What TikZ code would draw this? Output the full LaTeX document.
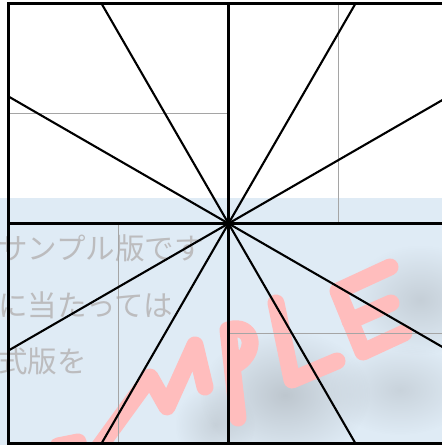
\documentclass[tikz,border=0pt]{standalone}
\usepackage{fontspec}
\newfontfamily\jpfont{Noto Sans CJK JP}
\usetikzlibrary{fadings}
\definecolor{band}{RGB}{223,235,245}
\definecolor{wmgray}{RGB}{188,188,190}
\definecolor{wmpink}{RGB}{255,189,189}
\definecolor{guide}{RGB}{165,165,165}
\definecolor{smudge}{RGB}{150,155,160}
\tikzfading[name=softblob, inner color=transparent!0, outer color=transparent!100]
\begin{document}
\begin{tikzpicture}[x=1pt,y=-1pt,
  ray/.style={line width=2.1pt, black},
  guideline/.style={line width=1.9pt, guide},
  framebox/.style={draw=black, line width=2.4pt, minimum width=440pt, minimum height=440pt, inner sep=0pt, outer sep=0pt},
  wmtext/.style={anchor=base west, inner sep=0pt, text=wmgray, font=\jpfont\fontsize{29.5}{30}\selectfont},
  wmletter/.style={line width=17pt, draw=wmpink, line cap=round, line join=round},
  blur/.style={fill=smudge, path fading=softblob}]
\useasboundingbox (0,0) rectangle (442,445);
\clip (0,0) rectangle (442,445);
% light band
\fill[band] (0,198) rectangle (442,445);
% smudges
\fill[blur, opacity=0.45] (285,395) ellipse (85 and 65);
\fill[blur, opacity=0.35] (420,300) ellipse (70 and 55);
\fill[blur, opacity=0.3] (400,390) ellipse (70 and 45);
\fill[blur, opacity=0.3] (215,425) ellipse (40 and 40);
% watermark text
\node[wmtext] (t1) at (-2,259) {サンプル版です};
\node[wmtext] (t2) at (-2,316) {に当たっては};
\node[wmtext] (t3) at (-2,372) {式版を};
% SAMPLE letters
\draw[wmletter] (35,510) -- (58,446) -- (78,442) -- (92,505);
\draw[wmletter] (97,450) -- (150,377) -- (167,407) -- (195,345) -- (205,387);
\draw[wmletter] (238,418) -- (228,330) .. controls (255,322) and (258,355) .. (233,366);
\draw[wmletter] (276,303) -- (292,380) -- (337,361);
\draw[wmletter] (390,267) -- (338,291) -- (363,352) -- (404,333);
\draw[wmletter] (350,321) -- (391,303);
% square frame and key points
\coordinate (C) at (228.5,223.5);
\coordinate (N) at (228.5,3.5);
\coordinate (S) at (228.5,443.5);
\coordinate (W) at (8.5,223.5);
\coordinate (E) at (448.5,223.5);
\coordinate (NW) at (101.5,3.5);
\coordinate (NE) at (355.5,3.5);
\coordinate (SW) at (101.5,443.5);
\coordinate (SE) at (355.5,443.5);
\coordinate (WN) at (8.5,96.5);
\coordinate (WS) at (8.5,350.5);
\coordinate (EN) at (448.5,96.5);
\coordinate (ES) at (448.5,350.5);
% guide lines
\coordinate (g1a) at (8.5,113.5);   \coordinate (g1b) at (228.5,113.5);
\coordinate (g2a) at (338.5,3.5);   \coordinate (g2b) at (338.5,223.5);
\coordinate (g3a) at (118.5,223.5); \coordinate (g3b) at (118.5,443.5);
\coordinate (g4a) at (228.5,333.5); \coordinate (g4b) at (448.5,333.5);
\draw[guideline] (g1a) -- (g1b);
\draw[guideline] (g2a) -- (g2b);
\draw[guideline] (g3a) -- (g3b);
\draw[guideline] (g4a) -- (g4b);
% rays
\foreach \p in {N,S,W,E,NW,NE,SW,SE,WN,WS,EN,ES}
  \draw[ray] (C) -- (\p);
\node[framebox] (sq) at (C) {};
\end{tikzpicture}
\end{document}
